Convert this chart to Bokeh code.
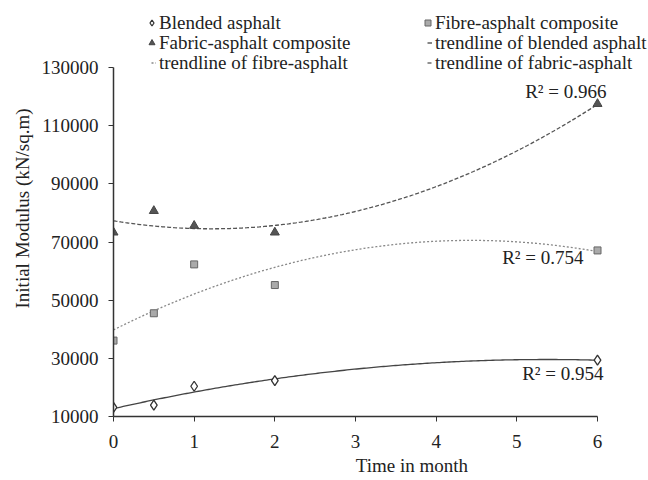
import numpy as np
from bokeh.plotting import figure
from bokeh.models import (Range1d, FixedTicker, Label, Legend, LegendItem,
                          BasicTickFormatter)
from bokeh.embed import file_html
from bokeh.resources import INLINE

# ---- data ----
months = [0, 0.5, 1, 2, 6]
blended = [13100, 13900, 20400, 22300, 29400]
fibre = [36100, 45500, 62300, 55200, 67100]
fabric = [73300, 80700, 75600, 73300, 117500]
r2_labels = ["R\u00b2 = 0.954", "R\u00b2 = 0.754", "R\u00b2 = 0.966"]
y_ticks = [10000, 30000, 50000, 70000, 90000, 110000, 130000]
x_ticks = [0, 1, 2, 3, 4, 5, 6]

FONT = "Liberation Serif"
W, H = 648, 480
LEFT, BOTTOM = 113, 64            # frame offsets (px)
FRAME_H = H - BOTTOM
X0, X1 = 0, 6                     # axis extent (data)
Y0, Y1 = 10000, 130000
PX_X = (597 - LEFT) / (X1 - X0)   # px per month
PX_Y = 349 / (Y1 - Y0)            # px per unit
# frame reaches to the top/right edge of the canvas so that texts outside the axes are not clipped
x_end = X1 + (W - 597) / PX_X
y_end = Y1 + (FRAME_H - 349) / PX_Y

p = figure(width=W, height=H, output_backend="svg", toolbar_location=None,
           x_range=Range1d(X0, x_end), y_range=Range1d(Y0, y_end),
           min_border_left=LEFT, min_border_right=0, min_border_top=0, min_border_bottom=BOTTOM)
p.outline_line_color = None
p.xgrid.visible = False
p.ygrid.visible = False
p.background_fill_color = "white"
p.border_fill_color = "white"

for ax in (p.xaxis, p.yaxis):
    ax.axis_line_color = "#333333"
    ax.axis_line_width = 1.5
    ax.major_tick_line_color = "#333333"
    ax.major_tick_out = 5
    ax.major_tick_in = 0
    ax.minor_tick_line_color = None
    ax.major_label_text_font = FONT
    ax.major_label_text_font_size = "19px"
    ax.major_label_text_color = "#222222"
    ax.axis_label_text_font = FONT
    ax.axis_label_text_font_size = "19px"
    ax.axis_label_text_font_style = "normal"
    ax.axis_label_text_color = "#222222"
p.xaxis.ticker = FixedTicker(ticks=x_ticks)
p.yaxis.ticker = FixedTicker(ticks=y_ticks)
p.xaxis.bounds = (X0, X1)
p.yaxis.bounds = (Y0, Y1)
p.yaxis.formatter = BasicTickFormatter(use_scientific=False)
p.xaxis.major_label_standoff = 13
p.yaxis.major_label_standoff = 10
p.yaxis.axis_label = "Initial Modulus (kN/sq.m)"
p.yaxis.axis_label_standoff = 6
# leading no-break spaces move the centred title to the right, as in the source
p.xaxis.axis_label = "\u00a0" * 13 + "Time in month"
p.xaxis.axis_label_standoff = 4

# trendlines: 2nd order polynomial fits of the data (as in the source chart)
xs = np.linspace(min(months), max(months), 200)
def trend(vals):
    c = np.polyfit(months, vals, 2)
    return np.polyval(c, xs)

r_tb = p.line(xs, trend(blended), line_color="#444444", line_width=1.3)
r_tf = p.line(xs, trend(fibre), line_color="#888888", line_width=1.3, line_dash="2 2")
r_tfa = p.line(xs, trend(fabric), line_color="#555555", line_width=1.3, line_dash="4 2")

r_b = p.scatter(months, blended, marker="diamond", size=10, fill_color="white",
                line_color="#333333", line_width=1.3)
r_f = p.scatter(months, fibre, marker="square", size=7, fill_color="#aaaaaa",
                line_color="#666666", line_width=1)
r_fa = p.scatter(months, fabric, marker="triangle", size=9, fill_color="#555555",
                 line_color="#444444", line_width=1)

# R² annotations next to the last point of each series
last = len(months) - 1
for vals, txt, dx, dy in ((blended, r2_labels[0], 6, -13),
                          (fibre, r2_labels[1], -14, -7),
                          (fabric, r2_labels[2], 9, 12)):
    p.add_layout(Label(x=months[last], y=vals[last], text=txt, x_offset=dx, y_offset=dy,
                       text_align="right", text_baseline="middle", text_font=FONT,
                       text_font_size="19px", text_color="#222222"))

# legend: two columns of three rows above the plot, one Legend per entry
ITEM_H = 21
def add_entry(label, renderer, text_left, row_center, marker):
    gw = 15 if marker else 5
    standoff = 0 if marker else 3
    left = text_left - standoff - gw
    lg = Legend(items=[LegendItem(label=label, renderers=[renderer])],
                location=(left - LEFT, FRAME_H - row_center - ITEM_H / 2),
                label_text_font=FONT, label_text_font_size="19px", label_text_color="#222222",
                glyph_width=gw, glyph_height=15, label_height=18, label_standoff=standoff,
                spacing=0, padding=0, margin=0, border_line_color=None,
                background_fill_alpha=0)
    p.add_layout(lg)

rows = [23, 43, 63]
add_entry("Blended asphalt", r_b, 159, rows[0], True)
add_entry("Fabric-asphalt composite", r_fa, 159, rows[1], True)
add_entry("trendline of fibre-asphalt", r_tf, 159, rows[2], False)
add_entry("Fibre-asphalt composite", r_f, 435, rows[0], True)
add_entry("trendline of blended asphalt", r_tb, 435, rows[1], False)
add_entry("trendline of fabric-asphalt", r_tfa, 435, rows[2], False)

open("out.html", "w").write(file_html(p, INLINE))
